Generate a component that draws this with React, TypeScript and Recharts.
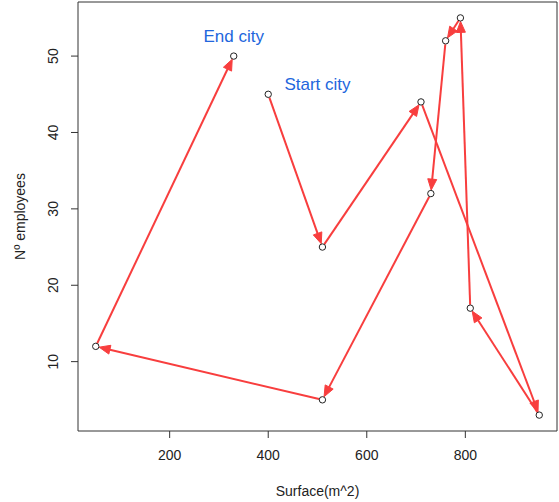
import React from "react";
import {
  ScatterChart,
  Scatter,
  XAxis,
  YAxis,
  ReferenceLine,
  ReferenceArea,
  ReferenceDot,
} from "recharts";

// route of the cities, in visiting order
const surface = [400, 510, 710, 950, 810, 790, 760, 730, 510, 50, 330];
const employees = [45, 25, 44, 3, 17, 55, 52, 32, 5, 12, 50];

const xTicks = [200, 400, 600, 800];
const yTicks = [10, 20, 30, 40, 50];

const cityLabels = ["Start city", "End city"];
const labelX = [500, 330];
const labelY = [46.3, 52.5];

const xDomain = [14, 986];
const yDomain = [0.92, 57.08];

const RED = "#F83E3E";
const BLUE = "#2266DD";
const FONT = "'Liberation Sans', Arial, sans-serif";

const points = surface.map((s, i) => ({ x: s, y: employees[i] }));

const Arrow = (p: any) => {
  const { x1, y1, x2, y2 } = p;
  const dx = x2 - x1;
  const dy = y2 - y1;
  const len = Math.sqrt(dx * dx + dy * dy) || 1;
  const ux = dx / len;
  const uy = dy / len;
  const sx = x1 + ux * 3.5;
  const sy = y1 + uy * 3.5;
  const tx = x2 - ux * 3.5;
  const ty = y2 - uy * 3.5;
  const bx = tx - ux * 11;
  const by = ty - uy * 11;
  const nx = -uy * 4.5;
  const ny = ux * 4.5;
  return (
    <g>
      <line x1={sx} y1={sy} x2={bx + ux} y2={by + uy} stroke={RED} strokeWidth={2} />
      <polygon
        points={`${tx},${ty} ${bx + nx},${by + ny} ${bx - nx},${by - ny}`}
        fill={RED}
        stroke={RED}
        strokeWidth={1}
      />
    </g>
  );
};

const YTick = (props: any) => {
  const { y, payload } = props;
  return (
    <text
      x={53}
      y={y}
      transform={`rotate(-90, 53, ${y})`}
      textAnchor="middle"
      dominantBaseline="central"
      fontSize={14}
      fill="#222"
      fontFamily={FONT}
    >
      {payload.value}
    </text>
  );
};

export default function App() {
  return (
    <div style={{ position: "absolute", left: 0, top: 0 }}>
      <ScatterChart
        width={559}
        height={502}
        margin={{ top: 2, right: 2, bottom: 0, left: 0 }}
        style={{ fontFamily: FONT, background: "#fff" }}
      >
        <XAxis
          type="number"
          dataKey="x"
          domain={xDomain}
          ticks={xTicks}
          allowDataOverflow
          height={71}
          axisLine={false}
          tickSize={7}
          tickMargin={12}
          tickLine={{ stroke: "#333" }}
          tick={{ fill: "#222", fontSize: 14 }}
          label={{
            value: "Surface(m^2)",
            position: "insideBottom",
            offset: 6,
            fill: "#222",
            fontSize: 14,
          }}
        />
        <YAxis
          type="number"
          dataKey="y"
          domain={yDomain}
          ticks={yTicks}
          allowDataOverflow
          width={78}
          axisLine={false}
          tickSize={7}
          tickLine={{ stroke: "#333" }}
          tick={<YTick />}
          label={{
            content: (p: any) => {
              const vb = p.viewBox || { y: 2, height: 429 };
              const cy = vb.y + vb.height / 2;
              return (
                <text
                  x={20}
                  y={cy}
                  transform={`rotate(-90, 20, ${cy})`}
                  textAnchor="middle"
                  dominantBaseline="central"
                  fontSize={14}
                  fill="#222"
                  fontFamily={FONT}
                >
                  Nº employees
                </text>
              );
            },
          }}
        />
        <ReferenceArea
          x1={xDomain[0]}
          x2={xDomain[1]}
          y1={yDomain[0]}
          y2={yDomain[1]}
          fill="none"
          stroke="#333"
          strokeWidth={1}
          ifOverflow="visible"
        />
        <Scatter
          data={points}
          isAnimationActive={false}
          shape={(p: any) => (
            <circle cx={p.cx} cy={p.cy} r={3.2} fill="none" stroke="#222" strokeWidth={1} />
          )}
        />
        {points.slice(1).map((pt, i) => (
          <ReferenceLine
            key={i}
            segment={[
              { x: points[i].x, y: points[i].y },
              { x: pt.x, y: pt.y },
            ]}
            shape={Arrow}
            ifOverflow="visible"
          />
        ))}
        {cityLabels.map((lab, i) => (
          <ReferenceDot
            key={lab}
            x={labelX[i]}
            y={labelY[i]}
            ifOverflow="visible"
            shape={(p: any) => (
              <text
                x={p.cx}
                y={p.cy}
                textAnchor="middle"
                dominantBaseline="central"
                fontSize={17}
                fill={BLUE}
                fontFamily={FONT}
              >
                {lab}
              </text>
            )}
          />
        ))}
      </ScatterChart>
    </div>
  );
}
